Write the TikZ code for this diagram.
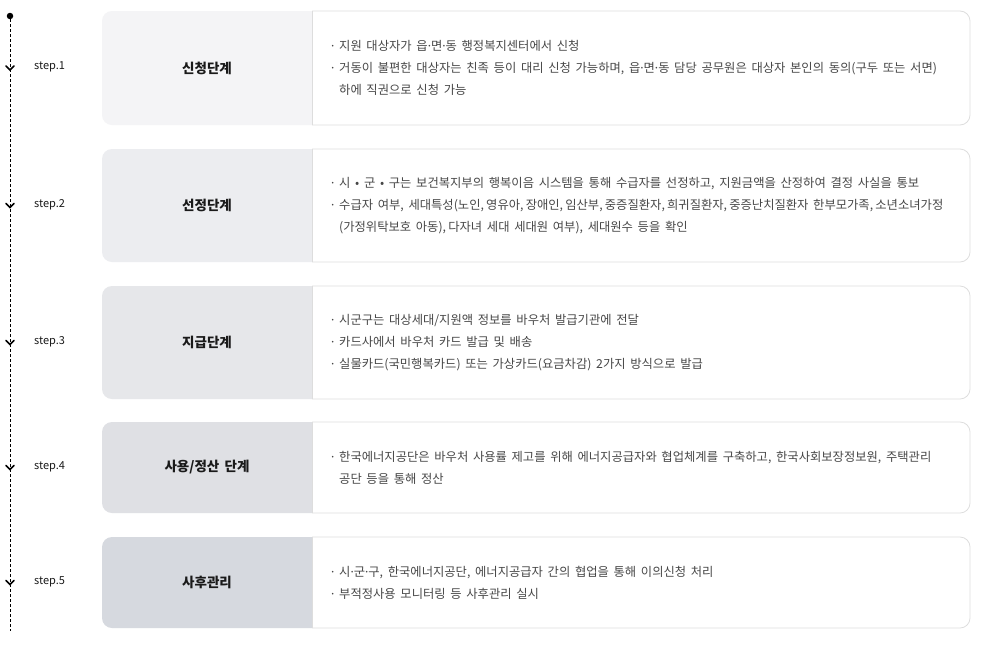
\documentclass[tikz,border=0pt]{standalone}
\usepackage{fontspec}
\setmainfont[WordSpace=1.7]{Noto Sans CJK KR}
\newfontfamily\latinfont{Noto Sans}
\definecolor{boxline}{HTML}{DDDDDD}
\definecolor{descc}{HTML}{474747}
\definecolor{titlec}{HTML}{1A1A1A}
\definecolor{fillA}{HTML}{F4F4F6}
\definecolor{fillB}{HTML}{ECEDF0}
\definecolor{fillC}{HTML}{E6E7EA}
\definecolor{fillD}{HTML}{DFE0E4}
\definecolor{fillE}{HTML}{D6D9DF}
\tikzset{
  titletext/.style={font=\fontsize{13.5}{16}\selectfont\bfseries, text=titlec, inner sep=0},
  desctext/.style={font=\fontsize{12.3}{22}\selectfont, text=descc, align=left, anchor=west, inner sep=0},
  steplabel/.style={font=\fontsize{11}{13}\selectfont, text=titlec, anchor=west, inner sep=0},
  chevron/.style={line width=1.6pt, line cap=round, line join=miter},
  timeline/.style={line width=0.8pt, dash pattern=on 3pt off 2pt}
}
\newcommand\md{{\latinfont ·}}
\newcommand\bul{\md\ }
\newcommand\ind{\phantom{\md\ }}
\newcommand\cm{,\hspace{2.2pt}}
\newcommand\stepblock[7]{%
  \path[fill=white, rounded corners=10pt] (102,#1) rectangle (970,#2);
  \begin{scope}
    \clip (100,{#1-2}) rectangle (312,{#2+2});
    \fill[#3, rounded corners=10pt] (102,#1) rectangle (970,#2);
  \end{scope}
  \begin{scope}
    \clip (312,{#1-2}) rectangle (984,{#2+2});
    \draw[boxline, line width=0.8pt, rounded corners=10pt] (102,#1) rectangle (970,#2);
  \end{scope}
  \draw[boxline, line width=0.8pt] (312,#1) -- (312,#2);
  \node[titletext] (t#4) at (207,{(#1+#2)/2}) {#5};
  \node[desctext] (d#4) at (331,{(#1+#2)/2}) {#6};
  \node[steplabel] (s#4) at (34,{(#1+#2)/2-1}) {#7};
  \coordinate (c#4) at (10,{(#1+#2)/2+2});
  \draw[chevron] ([xshift=-4pt,yshift=4pt]c#4) -- (c#4) -- ([xshift=4pt,yshift=4pt]c#4);
}
\begin{document}
\begin{tikzpicture}[x=1pt,y=-1pt]
\useasboundingbox (0,0) rectangle (984,646);
\fill[white] (0,0) rectangle (984,646);
\node[circle, fill=black, inner sep=0, minimum size=6.5pt] (dot) at (10,16) {};
\coordinate (lineend) at (10,631);
\draw[timeline] (dot) -- (lineend);
\stepblock{11}{125}{fillA}{1}{신청단계}{\bul 지원 대상자가 읍\md 면\md 동 행정복지센터에서 신청\\\bul 거동이 불편한 대상자는 친족 등이 대리 신청 가능하며, 읍\md 면\md 동 담당 공무원은 대상자 본인의 동의(구두 또는 서면)\\\ind 하에 직권으로 신청 가능}{step.1}
\stepblock{149}{262}{fillB}{2}{선정단계}{\bul 시 • 군 • 구는 보건복지부의 행복이음 시스템을 통해 수급자를 선정하고, 지원금액을 산정하여 결정 사실을 통보\\\bul 수급자 여부, 세대특성(노인\cm 영유아\cm 장애인\cm 임산부\cm 중증질환자\cm 희귀질환자\cm 중증난치질환자 한부모가족\cm 소년소녀가정\\\ind(가정위탁보호 아동)\cm 다자녀 세대 세대원 여부), 세대원수 등을 확인}{step.2}
\stepblock{286}{399}{fillC}{3}{지급단계}{\bul 시군구는 대상세대/지원액 정보를 바우처 발급기관에 전달\\\bul 카드사에서 바우처 카드 발급 및 배송\\\bul 실물카드(국민행복카드) 또는 가상카드(요금차감) 2가지 방식으로 발급}{step.3}
\stepblock{422}{513}{fillD}{4}{사용/정산 단계}{\bul 한국에너지공단은 바우처 사용률 제고를 위해 에너지공급자와 협업체계를 구축하고, 한국사회보장정보원, 주택관리\\\ind 공단 등을 통해 정산}{step.4}
\stepblock{537}{628}{fillE}{5}{사후관리}{\bul 시\md 군\md 구, 한국에너지공단, 에너지공급자 간의 협업을 통해 이의신청 처리\\\bul 부적정사용 모니터링 등 사후관리 실시}{step.5}
\end{tikzpicture}
\end{document}
